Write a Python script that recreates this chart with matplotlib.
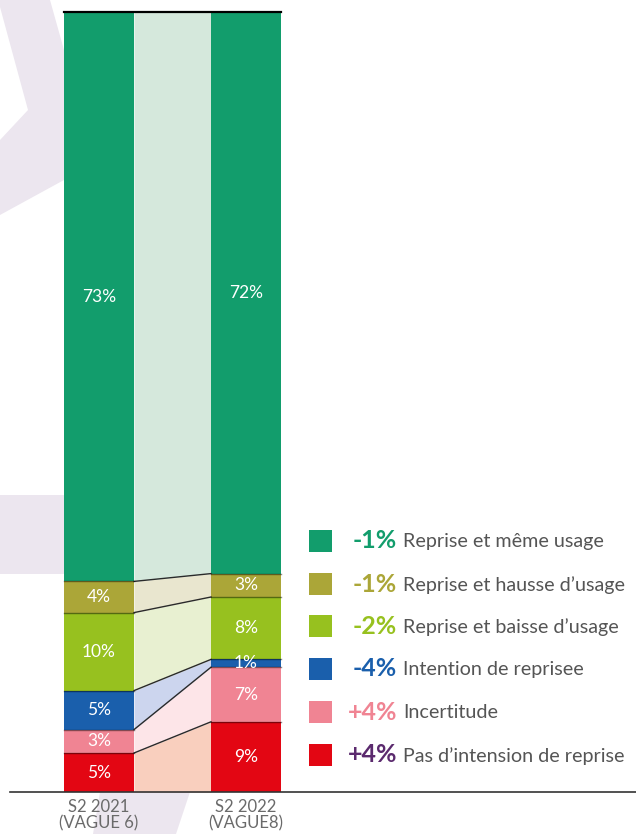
import matplotlib
matplotlib.use('Agg')
import matplotlib.pyplot as plt
from matplotlib.patches import Polygon, Rectangle, FancyBboxPatch
import numpy as np

# data
periods = ['S2 2021\n(VAGUE 6)', 'S2 2022\n(VAGUE8)']
categories = ['Pas d\u2019intension de reprise', 'Incertitude', 'Intention de reprisee',
              'Reprise et baisse d\u2019usage', 'Reprise et hausse d\u2019usage',
              'Reprise et même usage']
vals_2021 = [5, 3, 5, 10, 4, 73]
vals_2022 = [9, 7, 1, 8, 3, 72]
deltas = ['+4%', '+4%', '-4%', '-2%', '-1%', '-1%']

bar_colors = ['#E30613', '#F08493', '#1A5FAC', '#97C11F', '#ABA638', '#129D6C']
band_colors = ['#F9CFBE', '#FDE5E8', '#CCD5EE', '#E8F0D1', '#E9E6CF', '#D5E8DC']
delta_colors = ['#5B2A6E', '#F08493', '#1A5FAC', '#97C11F', '#ABA638', '#129D6C']

plt.rcParams['font.family'] = ['Lato', 'DejaVu Sans']

W, H = 636, 834
fig = plt.figure(figsize=(W / 100, H / 100), dpi=100)
fig.patch.set_facecolor('white')

def fx(px):
    return px / W

def fy(py):
    return 1 - py / H

# decorative background shapes
lav = '#ECE6EF'
chevron = [(0, 0), (50, 0), (64, 50), (64, 180), (0, 215), (0, 140), (28, 110), (0, 7)]
fig.add_artist(Polygon([(fx(x), fy(y)) for x, y in chevron], closed=True,
                       transform=fig.transFigure, facecolor=lav, edgecolor='none', zorder=-5))
fig.add_artist(FancyBboxPatch((fx(-10), fy(574)), fx(80), fy(495) - fy(574),
                              boxstyle='round,pad=0,rounding_size=0.012',
                              transform=fig.transFigure, facecolor=lav, edgecolor='none', zorder=-5))
foot = [(100, 792), (190, 792), (176, 834), (93, 834)]
fig.add_artist(Polygon([(fx(x), fy(y)) for x, y in foot], closed=True,
                       transform=fig.transFigure, facecolor=lav, edgecolor='none', zorder=-5))

# main axes: bar centres at x=0 and x=1, y in percent
ax = fig.add_axes([fx(10), 42 / H, fx(626), 780 / H])
ax.set_facecolor('none')
ax.set_xlim((10 - 99) / 147, (636 - 99) / 147)
ax.set_ylim(0, 100)
for s in ax.spines.values():
    s.set_visible(False)
ax.set_xticks([])
ax.set_yticks([])

bw = 70 / 147
x0, x1 = 0, 1
b1 = np.concatenate([[0], np.cumsum(vals_2021)])
b2 = np.concatenate([[0], np.cumsum(vals_2022)])

for i in range(len(categories)):
    ax.bar(x0, vals_2021[i], bw, bottom=b1[i], color=bar_colors[i], linewidth=0, zorder=2)
    ax.bar(x1, vals_2022[i], bw, bottom=b2[i], color=bar_colors[i], linewidth=0, zorder=2)
    # connecting band
    xs = [x0 + bw / 2, x1 - bw / 2]
    ax.fill_between(xs, [b1[i], b2[i]], [b1[i + 1], b2[i + 1]],
                    color=band_colors[i], linewidth=0, zorder=1)
    # boundary lines
    if i < len(categories) - 1:
        ax.plot(xs, [b1[i + 1], b2[i + 1]], color='#2a2a2a', lw=1.0, zorder=3)
        ax.plot([x0 - bw / 2, x0 + bw / 2], [b1[i + 1]] * 2, color='#000000', alpha=0.45, lw=1.0, zorder=3)
        ax.plot([x1 - bw / 2, x1 + bw / 2], [b2[i + 1]] * 2, color='#000000', alpha=0.45, lw=1.0, zorder=3)
    # value labels
    ax.text(x0, b1[i] + vals_2021[i] / 2, f'{vals_2021[i]}%', color='white',
            ha='center', va='center', fontsize=12.5, zorder=4)
    ax.text(x1, b2[i] + vals_2022[i] / 2, f'{vals_2022[i]}%', color='white',
            ha='center', va='center', fontsize=12.5, zorder=4)

# top line
ax.plot([x0 - bw / 2, x1 + bw / 2], [100, 100], color='black', lw=1.6, zorder=5, clip_on=False)
# baseline
ax.axhline(0, color='#333333', lw=1.2, zorder=5, clip_on=False)

# category labels
for xp, lab in zip([x0, x1], periods):
    ax.text(xp, -0.9, lab, ha='center', va='top', fontsize=12, color='#6a6a6a',
            linespacing=1.0, clip_on=False)

# legend
row_y = [755, 712, 669, 626, 584, 541]
for i in range(len(categories)):
    yc = row_y[i]
    fig.add_artist(Rectangle((fx(309), fy(yc + 11)), fx(23), 22 / H,
                             transform=fig.transFigure, facecolor=bar_colors[i], edgecolor='none'))
    fig.text(fx(397), fy(yc), deltas[i], ha='right', va='center', fontsize=18,
             fontweight='bold', color=delta_colors[i])
    fig.text(fx(403), fy(yc + 1), categories[i], ha='left', va='center', fontsize=14.2,
             color='#555555')

fig.savefig('out.png', dpi=100)
